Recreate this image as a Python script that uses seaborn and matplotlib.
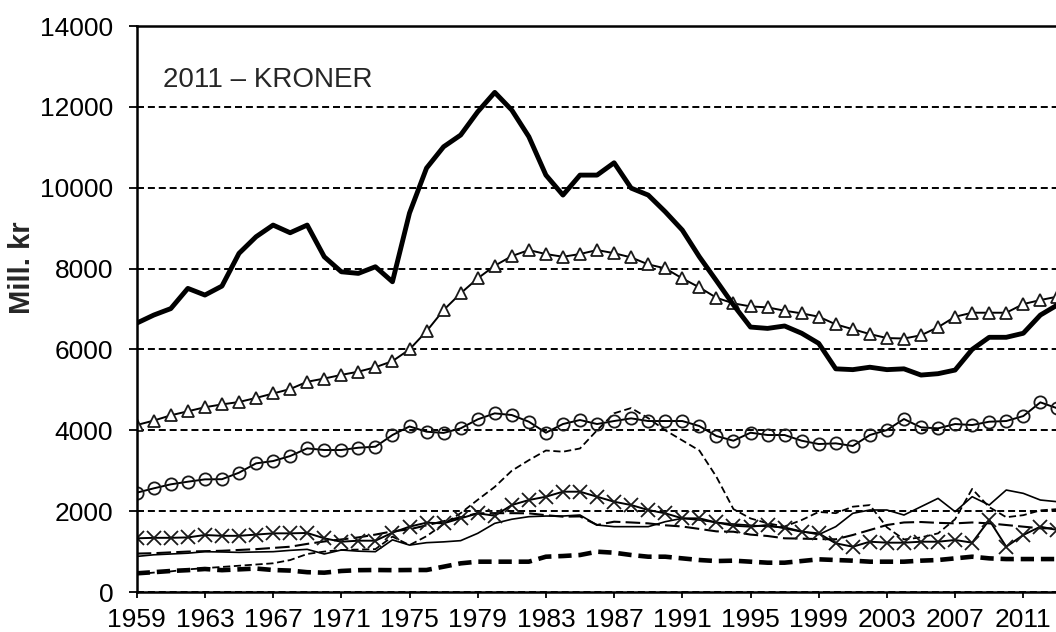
import matplotlib
matplotlib.use("Agg")
import matplotlib.pyplot as plt
import seaborn as sns

years = list(range(1959, 2014))

total = [6650, 6850, 7010, 7510, 7345, 7567, 8376, 8787, 9076, 8886,
         9076, 8292, 7921, 7881, 8045, 7674, 9373, 10486, 11013, 11303,
         11878, 12358, 11920, 11262, 10312, 9818, 10312, 10312, 10617, 9990,
         9818, 9405, 8952, 8292, 7700, 7100, 6553, 6520, 6580, 6400,
         6150, 5520, 5500, 5560, 5500, 5520, 5366, 5400, 5490, 6000,
         6300, 6300, 6400, 6850, 7100]

triangles = [4130, 4240, 4370, 4470, 4570, 4640, 4700, 4800, 4910, 5020,
             5200, 5280, 5370, 5450, 5560, 5710, 6000, 6450, 6974, 7388,
             7757, 8070, 8309, 8458, 8359, 8292, 8360, 8458, 8380, 8276,
             8103, 8005, 7757, 7535, 7278, 7139, 7064, 7040, 6958, 6892,
             6810, 6620, 6500, 6380, 6281, 6270, 6350, 6550, 6809, 6908,
             6908, 6908, 7122, 7221, 7307]

circles = [2456, 2564, 2663, 2728, 2786, 2790, 2951, 3182, 3239, 3363,
           3553, 3512, 3512, 3569, 3594, 3883, 4095, 3965, 3935, 4048,
           4270, 4419, 4377, 4212, 3940, 4155, 4254, 4155, 4229, 4295,
           4229, 4229, 4229, 4105, 3858, 3742, 3940, 3883, 3883, 3742,
           3660, 3677, 3611, 3883, 4006, 4278, 4072, 4048, 4155, 4130,
           4212, 4229, 4352, 4691, 4543]

short_dash = [440, 480, 510, 560, 590, 620, 650, 680, 710, 790,
              940, 1000, 1040, 1050, 1060, 1370, 1160, 1380, 1680, 1950,
              2280, 2600, 3000, 3260, 3500, 3470, 3550, 4000, 4420, 4550,
              4300, 4000, 3750, 3500, 2850, 2050, 1820, 1700, 1620, 1780,
              1980, 1950, 2110, 2150, 1600, 1300, 1350, 1450, 1800, 2550,
              2100, 1850, 1900, 2020, 2050]

crosses = [1328, 1340, 1340, 1350, 1410, 1390, 1390, 1420, 1451, 1451,
           1460, 1328, 1244, 1269, 1269, 1467, 1616, 1715, 1698, 1822,
           1946, 1887, 2151, 2275, 2357, 2481, 2481, 2357, 2233, 2151,
           2028, 1946, 1822, 1822, 1720, 1640, 1616, 1657, 1575, 1491,
           1451, 1204, 1120, 1244, 1220, 1220, 1244, 1244, 1286, 1220,
           1780, 1120, 1410, 1616, 1533]

thin_solid = [880, 920, 940, 960, 997, 990, 980, 990, 997, 1030,
              1055, 940, 1039, 1010, 997, 1290, 1160, 1220, 1240, 1270,
              1451, 1698, 1800, 1863, 1879, 1879, 1904, 1657, 1616, 1616,
              1616, 1739, 1822, 1780, 1720, 1680, 1650, 1620, 1600, 1500,
              1420, 1616, 1946, 2028, 2028, 1904, 2110, 2316, 1987, 2357,
              2151, 2522, 2440, 2275, 2233]

long_dash = [950, 960, 980, 1000, 1010, 1020, 1040, 1060, 1090, 1120,
             1190, 1250, 1300, 1350, 1420, 1500, 1550, 1650, 1750, 1850,
             1946, 1950, 1950, 1946, 1900, 1863, 1870, 1657, 1739, 1720,
             1698, 1650, 1620, 1560, 1500, 1491, 1420, 1385, 1328, 1320,
             1310, 1303, 1410, 1533, 1657, 1720, 1731, 1710, 1698, 1720,
             1698, 1657, 1616, 1575, 1575]

thick_dash = [462, 490, 520, 540, 569, 540, 560, 580, 544, 530,
              490, 478, 520, 540, 544, 540, 544, 544, 626, 709,
              750, 750, 750, 750, 873, 890, 915, 997, 972, 915,
              873, 873, 832, 791, 766, 775, 750, 725, 725, 766,
              808, 791, 775, 750, 750, 750, 775, 791, 832, 873,
              832, 815, 815, 815, 815]

y_ticks = [0, 2000, 4000, 6000, 8000, 10000, 12000, 14000]
x_ticks = list(range(1959, 2012, 4))
note_text = "2011 – KRONER"
y_label = "Mill. kr"

sns.set_theme(style="ticks")
plt.rcParams["font.family"] = ["Liberation Sans", "DejaVu Sans"]

W, H = 1056, 632
fig = plt.figure(figsize=(W / 100, H / 100), dpi=100)
px_per_year = 17.05
x_right = 2014
ax = fig.add_axes([136.7 / W, 40 / H, (x_right - 1959) * px_per_year / W, 566 / H])

series = [
    (thick_dash, dict(lw=3.3, linestyle=(0, (2.9, 1.5)))),
    (long_dash, dict(lw=1.5, linestyle=(0, (7, 2.5)))),
    (thin_solid, dict(lw=1.2, linestyle="-")),
    (short_dash, dict(lw=1.3, linestyle=(0, (4, 2)))),
    (crosses, dict(lw=1.4, marker="x", markersize=9.5, markeredgewidth=1.3,
                   markeredgecolor="k")),
    (circles, dict(lw=1.4, marker="o", markersize=8.8, markeredgewidth=1.3,
                   markeredgecolor="k", markerfacecolor="none")),
    (triangles, dict(lw=1.4, marker="^", markersize=8.5, markeredgewidth=1.3,
                     markeredgecolor="k", markerfacecolor="white")),
    (total, dict(lw=3.5, linestyle="-")),
]
for vals, kw in series:
    sns.lineplot(x=years, y=vals, ax=ax, color="black", **kw)

ax.set_xlim(1959, x_right)
ax.set_ylim(0, 14000)
ax.set_yticks(y_ticks)
ax.set_yticklabels([str(v) for v in y_ticks])
ax.set_xticks(x_ticks)
ax.set_xticklabels([str(v) for v in x_ticks])

ax.yaxis.grid(True, color="black", lw=1.4, linestyle=(0, (3.6, 2)))
ax.xaxis.grid(False)
ax.set_axisbelow(True)

for s in ["left", "top", "bottom", "right"]:
    ax.spines[s].set_color("black")
    ax.spines[s].set_linewidth(1.8)

ax.tick_params(axis="y", direction="out", length=5.8, width=1.3, pad=11,
               labelsize=19, colors="black")
ax.tick_params(axis="x", direction="out", length=4.3, width=1.3, pad=7.5,
               labelsize=19, colors="black")

ax.set_xlabel("")
ax.set_ylabel("")
fig.text(22 / W, 1 - 268 / H, y_label, rotation=90, ha="center", va="center",
         fontsize=21, fontweight="bold")

ax.text(1960.54, 12480, note_text, fontsize=20, ha="left", va="baseline")

fig.savefig("out.png", dpi=100)
